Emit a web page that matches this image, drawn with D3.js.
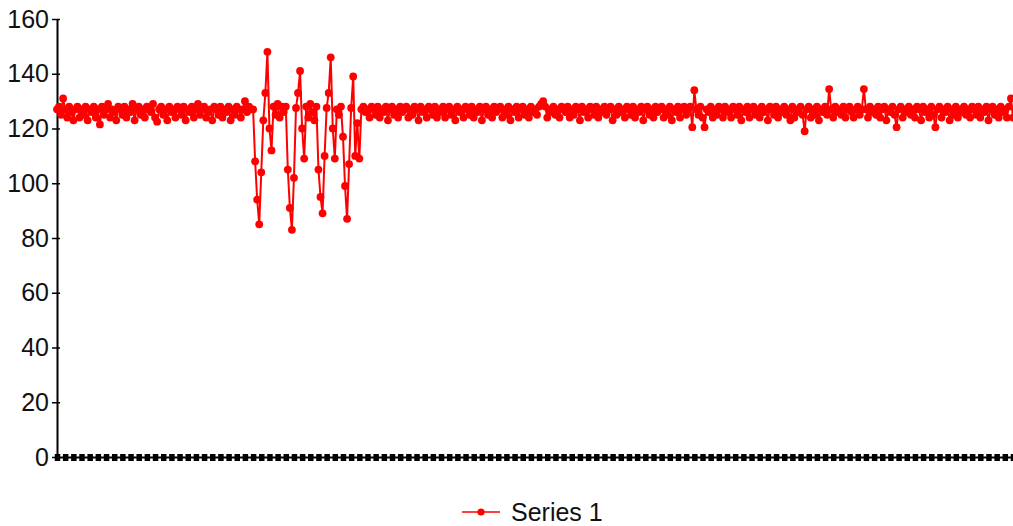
<html>
<head>
<title>Series 1</title>
<style>
body { margin: 0; background: #ffffff; }
svg { display: block; }
</style>
</head>
<body>

<div id="chart"></div>

<script src="https://cdn.jsdelivr.net/npm/d3@7"></script>
<script>
(function(){
	"use strict";

	// Chart data
	var seriesName = "Series 1";
	var yTickValues = [0, 20, 40, 60, 80, 100, 120, 140, 160];
	var seriesValues = [
		127,128,125,131,127,124,128,126,123,127,128,124,127,125,128,123,127,126,128,124,
		127,121.5,128,125,127,129,124,127,126,123,128,127,125,128,124,127,126,129,123,127,
		128,125,127,124,128,127,126,129,124,122.5,127,128,125,127,123,128,126,127,124,128,
		127,125,128,123,127,126,128,124,127,129,125,127,128,124,126,127,123,128,127,125,
		128,124,127,126,128,123,127,125,128,127,124,127,130,126,128,127,127,108,94,85,
		104,123,133,148,120,112,128,125,129,124,128,126,128,105,91,83,102,127.5,133,141,
		120,109,128,124,129,126,123,128,105,95,89,110,127.5,133,146,120,109,127,125,128,
		117,99,87,107,127.5,139,110,122,109,127,128,126,127,124,128,127,125,128,124,127,
		126,128,123,127,128,125,127,124,128,126,127,128,124,127,125,128,127,123,128,126,
		127,124,128,127,125,128,124,127,126,128,124,127,128,125,127,123,128,126,127,124,
		128,127,125,128,124,127,126,128,123,127,128,125,127,124,128,126,127,128,124,127,
		125,128,123,127,126,128,124,127,128,125,127,124,128,126,127,125,128,129,130,128,
		124,127,126,128,125,127,124,128,127,126,128,124,127,125,128,127,123,128,126,127,
		124,128,127,125,128,124,127,126,128,125,127,128,123,127,125,128,126,127,124,128,
		127,125,128,124,127,126,128,123,127,128,125,127,124,128,126,127,128,124,127,125,
		128,123,127,126,128,124,127,128,125,127,128,120.5,134,127,125,128,124,120.5,127,126,
		128,124,127,125,128,127,124,128,126,127,124,128,127,125,128,123,127,126,128,124,
		127,128,125,127,124,128,126,127,123,128,127,125,128,124,127,126,128,125,127,123,
		128,124,127,126,128,125,119,127,128,124,127,125,128,123,127,126,128,125,134.4,127,
		124,128,126,127,125,128,124,127,128,126,124,127,128,125,127,134.4,127,124,128,126,
		127,125,128,124,127,128,123,127,126,128,125,120.5,127,128,124,127,126,128,125,127,
		124,128,127,123,128,126,127,124,128,125,120.5,127,128,124,127,126,128,123,127,125,
		128,124,127,126,128,125,127,124,128,127,125,128,124,127,126,128,123,127,128,125,
		127,124,128,126,127,124,128,131,124
	];
	var categories = seriesValues.map(function(d, i){ return i + 1; });

	var margin = { top: 19, right: 0, bottom: 69, left: 57 };
	var width = 1013 - margin.left - margin.right;
	var height = 526 - margin.top - margin.bottom;

	var svg = d3.select("#chart")
		.append("svg")
			.attr("width", 1013)
			.attr("height", 526);

	var chart = svg.append("g")
		.attr("transform", "translate(" + margin.left + "," + margin.top + ")");

	// Scales
	var x = d3.scalePoint()
		.domain(categories)
		.range([0, width]);

	var y = d3.scaleLinear()
		.domain([0, 160])
		.range([height, 0]);

	// Vertical axis
	var yAxis = d3.axisLeft(y)
		.tickValues(yTickValues)
		.tickSizeInner(5)
		.tickSizeOuter(0)
		.tickPadding(3);

	var yGuide = chart.append("g").call(yAxis);
	yGuide.select(".domain")
		.style("stroke", "#000000")
		.style("stroke-width", 2);
	yGuide.selectAll(".tick line")
		.attr("x1", -5)
		.attr("x2", 3)
		.style("stroke", "#000000")
		.style("stroke-width", 1.5);
	yGuide.selectAll(".tick text")
		.attr("x", -8)
		.style("font-family", "'Liberation Sans', Arial, sans-serif")
		.style("font-size", "25px")
		.style("fill", "#111111");

	// Horizontal axis, a tick every fourth category
	var xAxis = d3.axisBottom(x)
		.tickValues(categories.filter(function(d, i){ return i % 4 === 0; }))
		.tickFormat("")
		.tickSizeOuter(0);

	var xGuide = chart.append("g")
		.attr("transform", "translate(0," + height + ")")
		.call(xAxis);
	xGuide.select(".domain")
		.style("stroke", "#000000")
		.style("stroke-width", 2);
	xGuide.selectAll(".tick line")
		.attr("y1", -3)
		.attr("y2", 4)
		.style("stroke", "#000000")
		.style("stroke-width", 5.5);

	// Series line and markers
	var line = d3.line()
		.x(function(d, i){ return x(categories[i]); })
		.y(function(d){ return y(d); });

	chart.append("path")
		.datum(seriesValues)
		.attr("d", line)
		.style("fill", "none")
		.style("stroke", "#ff0000")
		.style("stroke-width", 2);

	chart.selectAll("circle.point")
		.data(seriesValues)
		.enter().append("circle")
			.attr("class", "point")
			.attr("cx", function(d, i){ return x(categories[i]); })
			.attr("cy", function(d){ return y(d); })
			.attr("r", 3.9)
			.style("fill", "#ff0000");

	// Legend
	var legend = svg.append("g")
		.attr("transform", "translate(481,512)");
	legend.append("line")
		.attr("x1", -19)
		.attr("x2", 19)
		.style("stroke", "#ff0000")
		.style("stroke-width", 1.5);
	legend.append("circle")
		.attr("r", 3.6)
		.style("fill", "#ff0000");
	legend.append("text")
		.attr("x", 30)
		.attr("y", 9)
		.text(seriesName)
		.style("font-family", "'Liberation Sans', Arial, sans-serif")
		.style("font-size", "25px")
		.style("fill", "#111111");

})();
</script>

</body>
</html>
